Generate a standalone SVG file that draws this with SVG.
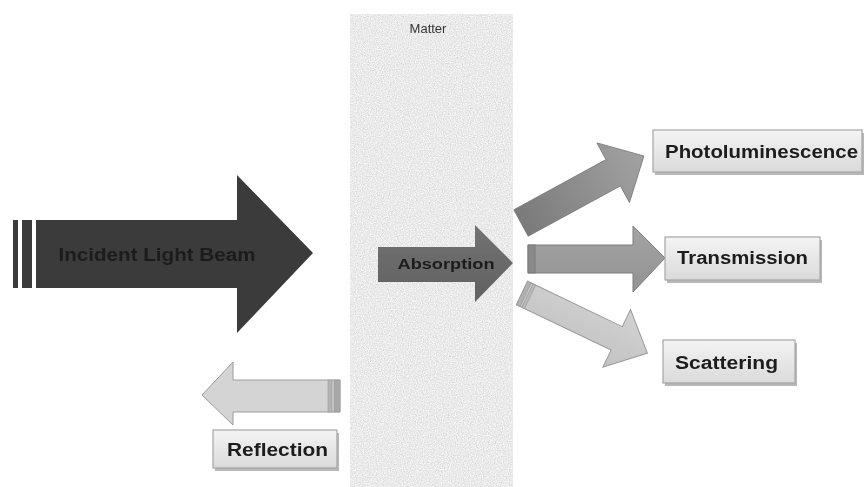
<svg xmlns="http://www.w3.org/2000/svg" width="864" height="487" viewBox="0 0 864 487">
  <defs>
    <filter id="grain" x="0" y="0" width="100%" height="100%">
      <feTurbulence type="fractalNoise" baseFrequency="0.85" numOctaves="2" seed="4" result="n"/>
      <feColorMatrix in="n" type="matrix" values="0.45 0 0 0 0.6  0.45 0 0 0 0.6  0.45 0 0 0 0.6  0 0 0 0 1" result="g"/>
      <feComposite in="g" in2="SourceGraphic" operator="in"/>
    </filter>
    <filter id="soft" x="-5%" y="-5%" width="110%" height="110%">
      <feGaussianBlur stdDeviation="0.6"/>
    </filter>
    <linearGradient id="boxFill" x1="0" y1="0" x2="0" y2="1">
      <stop offset="0" stop-color="#f4f4f4"/>
      <stop offset="1" stop-color="#dadada"/>
    </linearGradient>
    <linearGradient id="plFill" x1="0" y1="0" x2="1" y2="0">
      <stop offset="0" stop-color="#7a7a7a"/>
      <stop offset="1" stop-color="#a2a2a2"/>
    </linearGradient>
    <linearGradient id="trFill" x1="0" y1="0" x2="0" y2="1">
      <stop offset="0" stop-color="#a4a4a4"/>
      <stop offset="1" stop-color="#929292"/>
    </linearGradient>
    <linearGradient id="scFill" x1="0" y1="0" x2="0" y2="1">
      <stop offset="0" stop-color="#d2d2d2"/>
      <stop offset="1" stop-color="#c2c2c2"/>
    </linearGradient>
    <linearGradient id="abFill" x1="0" y1="0" x2="0" y2="1">
      <stop offset="0" stop-color="#727272"/>
      <stop offset="1" stop-color="#616161"/>
    </linearGradient>
  </defs>
  <style>
    .lbl { font-family: "Liberation Sans", "DejaVu Sans", sans-serif; font-weight: bold; fill: #1c1c1c; }
    .box { fill: url(#boxFill); stroke: #a6a6a6; stroke-width: 1.2; }
    .shadow { fill: #b8b8b8; }
  </style>

  <rect width="864" height="487" fill="#ffffff"/>

  <g filter="url(#soft)">
    <!-- slab of matter -->
    <g id="matter">
      <rect x="350" y="14" width="163" height="473" fill="#dcdcdc" filter="url(#grain)"/>
      <text x="428" y="33" text-anchor="middle" font-family="Liberation Sans, DejaVu Sans, sans-serif" font-size="13" fill="#333">Matter</text>
    </g>

    <g id="connectors">
      <!-- incident beam -->
      <g id="incident">
        <rect x="13" y="220" width="5" height="68" fill="#3a3a3a"/>
        <rect x="22" y="220" width="10" height="68" fill="#3a3a3a"/>
        <path d="M36,220 H237 V175 L313,253 L237,333 V288 H36 Z" fill="#3b3b3b"/>
        <text class="lbl" x="157" y="261" text-anchor="middle" font-size="18" textLength="197" lengthAdjust="spacingAndGlyphs" fill="#141414">Incident Light Beam</text>
      </g>

      <!-- absorption -->
      <g id="absorption">
        <path d="M378,247 H475 V225 L513,263 L475,302 V282 H378 Z" fill="url(#abFill)"/>
        <text class="lbl" x="446" y="269" text-anchor="middle" font-size="15" textLength="97" lengthAdjust="spacingAndGlyphs" fill="#151515">Absorption</text>
      </g>

      <!-- photoluminescence arrow -->
      <g id="arrow-pl" transform="translate(521,223) rotate(-28.6)">
        <path d="M0,-15 H105 V-34 L140,0 L105,34 V15 H0 Z" fill="url(#plFill)" stroke="#7a7a7a" stroke-width="0.8"/>
      </g>

      <!-- transmission arrow -->
      <g id="arrow-tr">
        <path d="M528,245 H633 V226 L665,258 L633,292 V273 H528 Z" fill="url(#trFill)" stroke="#7c7c7c" stroke-width="1"/>
        <rect x="528" y="245" width="7" height="28" fill="#8a8a8a" stroke="#777" stroke-width="0.8"/>
      </g>

      <!-- scattering arrow -->
      <g id="arrow-sc" transform="translate(522,293) rotate(25.6)">
        <path d="M0,-13 H105 V-32 L139,0 L105,32 V13 H0 Z" fill="url(#scFill)" stroke="#9a9a9a" stroke-width="1"/>
        <rect x="0" y="-13" width="4" height="26" fill="#b0b0b0" stroke="#999" stroke-width="0.6"/>
        <rect x="6" y="-13" width="3" height="26" fill="#b8b8b8" stroke="#999" stroke-width="0.6"/>
      </g>

      <!-- reflection arrow -->
      <g id="arrow-rf">
        <path d="M340,380 H233 V362 L202,395 L233,425 V412 H340 Z" fill="#d4d4d4" stroke="#9c9c9c" stroke-width="1"/>
        <rect x="328" y="380" width="4" height="32" fill="#b4b4b4" stroke="#9a9a9a" stroke-width="0.6"/>
        <rect x="334" y="380" width="6" height="32" fill="#a8a8a8" stroke="#9a9a9a" stroke-width="0.6"/>
      </g>
    </g>

    <!-- result boxes -->
    <g id="photoluminescence">
      <rect class="shadow" x="655" y="133" width="209" height="42"/>
      <rect class="box" x="653" y="130" width="209" height="42"/>
      <text class="lbl" x="665" y="158" font-size="18" textLength="193" lengthAdjust="spacingAndGlyphs">Photoluminescence</text>
    </g>

    <g id="transmission">
      <rect class="shadow" x="667" y="240" width="155" height="43"/>
      <rect class="box" x="665" y="237" width="155" height="43"/>
      <text class="lbl" x="677" y="264" font-size="18" textLength="131" lengthAdjust="spacingAndGlyphs">Transmission</text>
    </g>

    <g id="scattering">
      <rect class="shadow" x="665" y="343" width="132" height="43"/>
      <rect class="box" x="663" y="340" width="132" height="43"/>
      <text class="lbl" x="675" y="369" font-size="18" textLength="103" lengthAdjust="spacingAndGlyphs">Scattering</text>
    </g>

    <g id="reflection">
      <rect class="shadow" x="215" y="433" width="124" height="38"/>
      <rect class="box" x="213" y="430" width="124" height="38"/>
      <text class="lbl" x="227" y="456" font-size="18" textLength="101" lengthAdjust="spacingAndGlyphs">Reflection</text>
    </g>
  </g>
</svg>
